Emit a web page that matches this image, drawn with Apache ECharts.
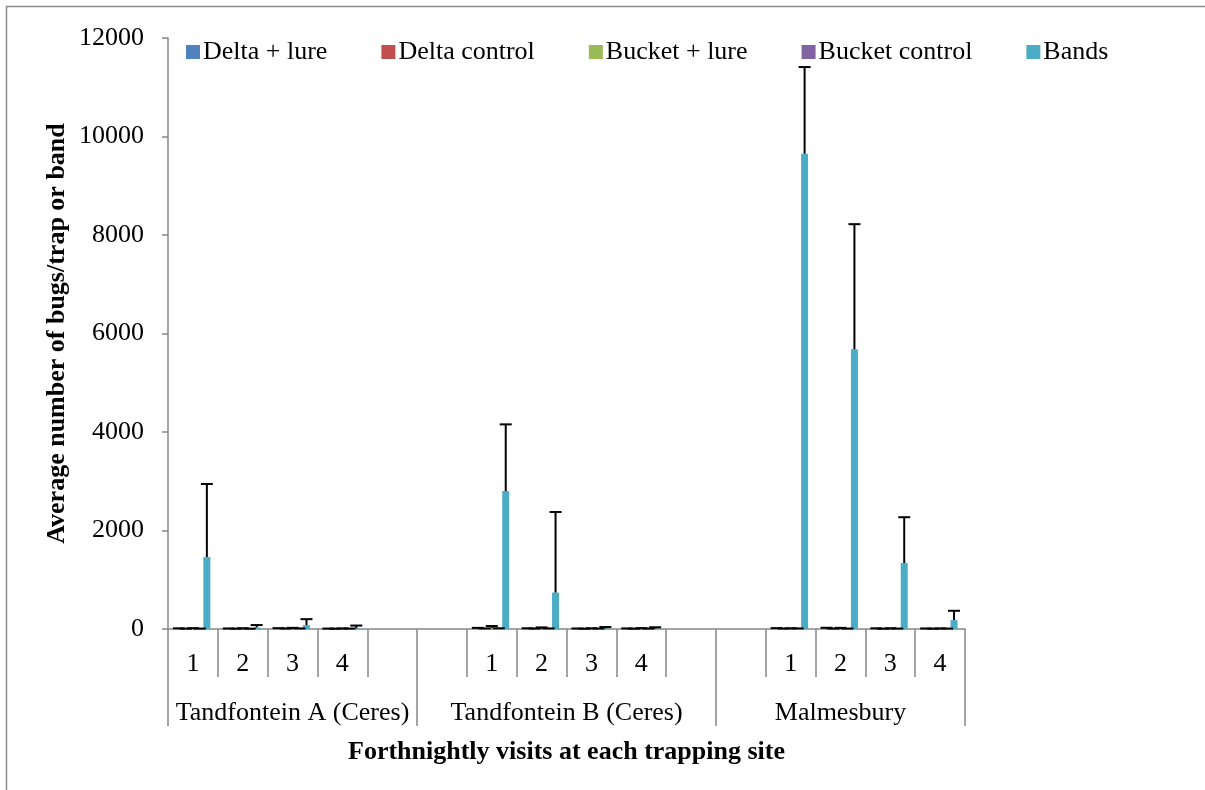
<!DOCTYPE html>
<html>
<head>
<meta charset="utf-8">
<title>Average number of bugs per trap or band</title>
<script src="https://cdn.jsdelivr.net/npm/echarts@6/dist/echarts.min.js"></script>
<style>
  html, body { margin: 0; padding: 0; background: #fff; }
  #chart { width: 1205px; height: 790px; }
</style>
</head>
<body>
<div id="chart"></div>
<script>
// Visit labels along the axis; empty slots separate the trapping sites
const visits = ['1', '2', '3', '4', '', '', '1', '2', '3', '4', '', '', '1', '2', '3', '4'];
// Site names and the slot ranges [first, last+1] they cover
const sites = ['Tandfontein A (Ceres)', 'Tandfontein B (Ceres)', 'Malmesbury'];
const siteStart = [0, 5, 11];
const siteEnd = [5, 11, 16];

const seriesNames = ['Delta + lure', 'Delta control', 'Bucket + lure', 'Bucket control', 'Bands'];
const seriesColors = ['#4F81BD', '#C0504D', '#9BBB59', '#8064A2', '#4BACC6'];

// Mean counts per visit
const deltaLure      = [4, 3, 5, 3, null, null, 8, 5, 3, 4, null, null, 6, 5, 4, 3];
const deltaControl   = [2, 2, 3, 2, null, null, 4, 3, 2, 2, null, null, 3, 3, 2, 2];
const bucketLure     = [5, 6, 8, 4, null, null, 25, 12, 5, 6, null, null, 5, 8, 5, 4];
const bucketControl  = [3, 2, 4, 3, null, null, 5, 4, 3, 3, null, null, 4, 3, 3, 3];
const bands          = [1460, 30, 80, 15, null, null, 2800, 740, 15, 10, null, null, 9650, 5680, 1340, 180];

// Standard errors (plus direction)
const deltaLureErr     = [10, 8, 12, 6, null, null, 15, 10, 8, 8, null, null, 12, 20, 10, 8];
const deltaControlErr  = [5, 4, 6, 4, null, null, 8, 6, 4, 4, null, null, 6, 5, 4, 4];
const bucketLureErr    = [12, 10, 15, 8, null, null, 35, 20, 10, 12, null, null, 10, 15, 10, 8];
const bucketControlErr = [6, 5, 8, 6, null, null, 10, 8, 6, 6, null, null, 8, 6, 6, 6];
const bandsErr         = [1485, 50, 120, 55, null, null, 1355, 1635, 25, 25, null, null, 1760, 2540, 930, 190];

const yTicks = { min: 0, max: 12000, interval: 2000 };

const means = [deltaLure, deltaControl, bucketLure, bucketControl, bands];
const errors = [deltaLureErr, deltaControlErr, bucketLureErr, bucketControlErr, bandsErr];

const FONT = "'Liberation Serif', 'Times New Roman', serif";
const AXIS_GREY = '#878787';
const CAT_GAP = 0.3;          // share of each slot left empty
const N = seriesNames.length;

function errorBar(k) {
  return function (params, api) {
    const i = api.value(0), v = api.value(1), e = api.value(2);
    const band = api.size([1, 0])[0];
    const groupW = band * (1 - CAT_GAP);
    const barW = groupW / N;
    const base = api.coord([i, v]);
    const top = api.coord([i, v + e]);
    const x = base[0] - groupW / 2 + barW * (k + 0.5);
    const cap = 6;
    const style = { stroke: '#000', lineWidth: 2 };
    return {
      type: 'group',
      children: [
        { type: 'line', shape: { x1: x, y1: base[1], x2: x, y2: top[1] }, style: style },
        { type: 'line', shape: { x1: x - cap, y1: top[1], x2: x + cap, y2: top[1] }, style: style }
      ]
    };
  };
}

const barSeries = seriesNames.map((name, k) => ({
  name: name,
  type: 'bar',
  xAxisIndex: 0,
  data: means[k],
  barGap: '0%',
  barCategoryGap: (CAT_GAP * 100) + '%',
  itemStyle: { color: seriesColors[k] },
  emphasis: { disabled: true },
  animation: false
}));

const errSeries = seriesNames.map((name, k) => ({
  name: name + ' SE',
  type: 'custom',
  xAxisIndex: 0,
  renderItem: errorBar(k),
  data: means[k].map((v, i) => v == null ? null : [i, v, errors[k][i]]).filter(d => d),
  encode: { x: 0, y: [1, 2] },
  z: 5,
  silent: true,
  animation: false
}));

// which slot carries each site label (even-width sites get shifted half a slot)
function siteAt(index) {
  for (let s = 0; s < sites.length; s++) {
    const mid = (siteStart[s] + siteEnd[s]) / 2;
    if (index === Math.floor(mid - 0.5)) return s;
  }
  return -1;
}

const chart = echarts.init(document.getElementById('chart'), null, { renderer: 'canvas' });
chart.setOption({
  backgroundColor: '#fff',
  animation: false,
  textStyle: { fontFamily: FONT },
  graphic: [{
    type: 'rect',
    shape: { x: 6.5, y: 6.5, width: 1220, height: 800 },
    style: { fill: 'none', stroke: '#8c8c8c', lineWidth: 1.5 },
    silent: true
  }],
  legend: {
    data: seriesNames,
    left: 181,
    top: 34,
    icon: 'rect',
    itemWidth: 14,
    itemHeight: 14,
    itemGap: 54,
    textStyle: { fontFamily: FONT, fontSize: 26, color: '#000', padding: [0, 0, 0, -2] },
    selectedMode: false
  },
  grid: { left: 168, right: 240, top: 38, bottom: 161, containLabel: false },
  xAxis: [{
    type: 'category',
    data: visits,
    position: 'bottom',
    axisLine: { show: true, lineStyle: { color: AXIS_GREY, width: 1.5 } },
    axisTick: { show: true, interval: 0, length: 48, lineStyle: { color: AXIS_GREY, width: 1.5 } },
    axisLabel: { interval: 0, margin: 22, fontFamily: FONT, fontSize: 26, color: '#000' },
    name: 'Forthnightly visits at each trapping site',
    nameLocation: 'middle',
    nameGap: 110,
    nameMoveOverlap: false,
    nameTextStyle: { fontFamily: FONT, fontSize: 26, fontWeight: 'bold', color: '#000' }
  }, {
    type: 'category',
    data: visits,
    position: 'bottom',
    axisLine: { show: false },
    axisTick: {
      show: true,
      interval: (index) => siteStart.indexOf(index) >= 0,
      length: 97,
      lineStyle: { color: AXIS_GREY, width: 1.5 }
    },
    axisLabel: {
      interval: (index) => siteAt(index) >= 0,
      margin: 71,
      fontFamily: FONT,
      fontSize: 26,
      color: '#000',
      formatter: function (value, index) {
        const s = siteAt(index);
        if (s < 0) return '';
        const even = (siteEnd[s] - siteStart[s]) % 2 === 0;
        return even ? '{r|' + sites[s] + '}' : '{c|' + sites[s] + '}';
      },
      rich: {
        c: { fontFamily: FONT, fontSize: 26, color: '#000' },
        r: { fontFamily: FONT, fontSize: 26, color: '#000', padding: [0, 0, 0, 50] }
      }
    }
  }],
  yAxis: {
    type: 'value',
    min: yTicks.min,
    max: yTicks.max,
    interval: yTicks.interval,
    axisLine: { show: true, lineStyle: { color: AXIS_GREY, width: 1.5 } },
    axisTick: { show: true, length: 6, lineStyle: { color: AXIS_GREY, width: 1.5 } },
    splitLine: { show: false },
    axisLabel: { margin: 24, fontFamily: FONT, fontSize: 26, color: '#000', formatter: (v) => String(v) },
    name: 'Average number of bugs/trap or band',
    nameLocation: 'middle',
    nameGap: 98,
    nameMoveOverlap: false,
    nameTextStyle: { fontFamily: FONT, fontSize: 26, fontWeight: 'bold', color: '#000' }
  },
  series: barSeries.concat(errSeries)
});
</script>
</body>
</html>
